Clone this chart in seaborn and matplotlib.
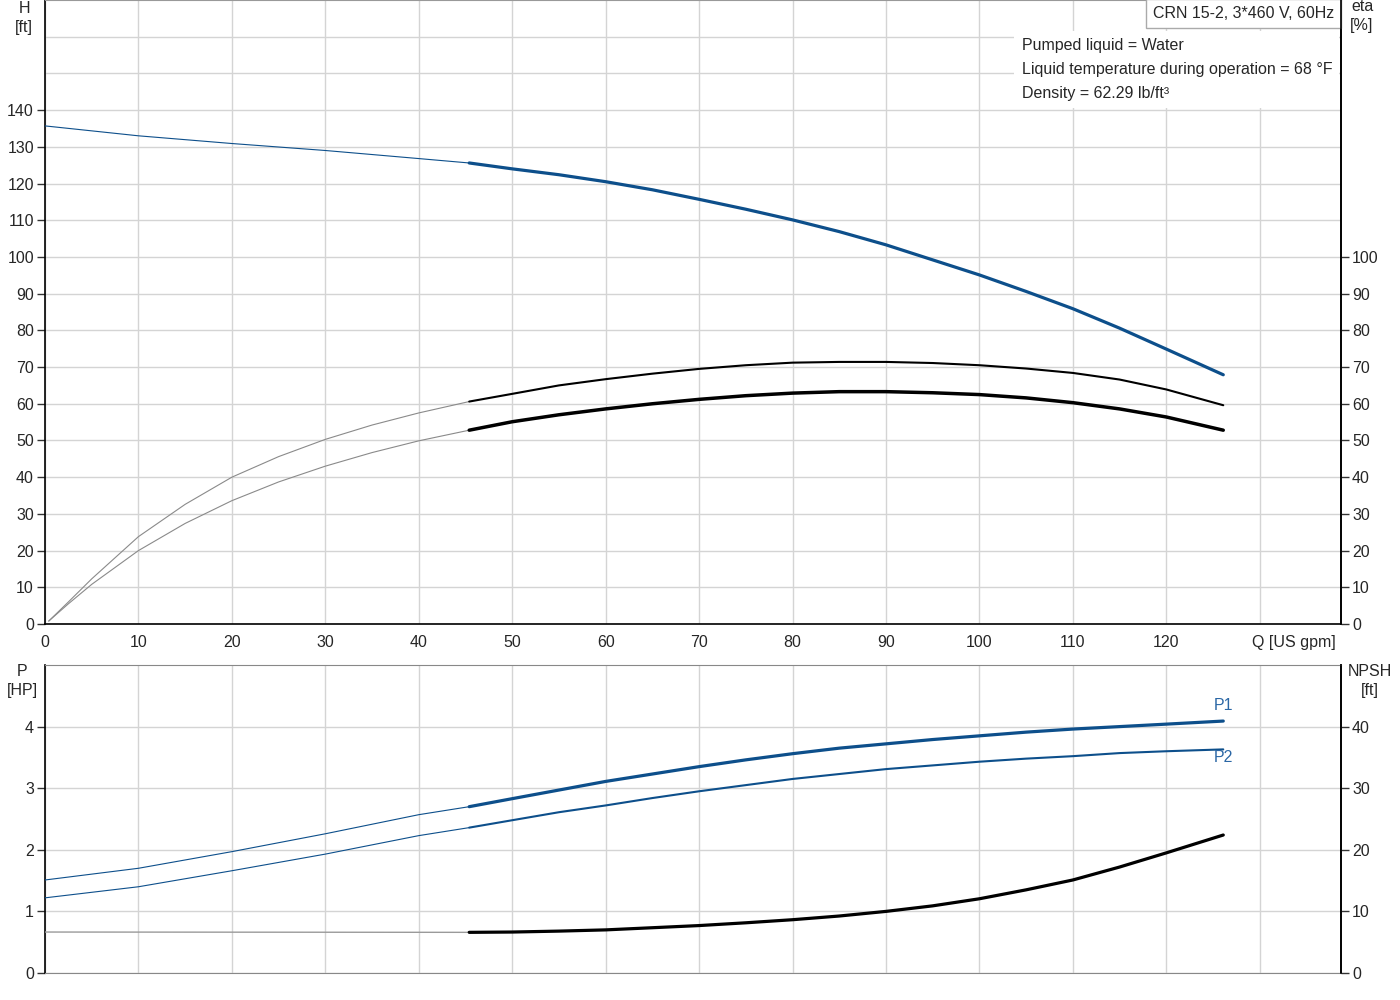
import numpy as np
import pandas as pd
import matplotlib
matplotlib.use("Agg")
import matplotlib.pyplot as plt
import matplotlib.transforms as mtransforms
import seaborn as sns

# ---------------- data ----------------
q_thin = [0, 10, 20, 30, 40, 45.4]
q_main = [45.4, 50, 55, 60, 65, 70, 75, 80, 85, 90, 95, 100, 105, 110, 115, 120, 126.1]

h_thin = [135.7, 133.0, 130.9, 129.0, 126.8, 125.6]
h_main = [125.6, 124.0, 122.4, 120.5, 118.3, 115.7, 113.0, 110.1, 106.9, 103.3,
          99.2, 95.1, 90.6, 85.9, 80.6, 74.9, 67.9]

q_eta_thin = [0.4, 2.5, 5, 10, 15, 20, 25, 30, 35, 40, 45.4]
eta1_thin = [0.8, 6.0, 12.3, 23.8, 32.6, 40.0, 45.6, 50.3, 54.2, 57.5, 60.6]
eta1_main = [60.6, 62.7, 65.0, 66.7, 68.2, 69.5, 70.5, 71.2, 71.4, 71.4,
             71.1, 70.5, 69.6, 68.4, 66.6, 63.9, 59.6]
eta2_thin = [0.8, 5.5, 10.8, 20.0, 27.4, 33.6, 38.7, 43.0, 46.7, 49.9, 52.8]
eta2_main = [52.8, 55.1, 57.0, 58.6, 60.0, 61.2, 62.2, 62.9, 63.3, 63.3,
             63.0, 62.5, 61.6, 60.3, 58.6, 56.4, 52.8]

p1_thin = [1.51, 1.70, 1.97, 2.26, 2.57, 2.70]
p1_main = [2.70, 2.83, 2.97, 3.11, 3.23, 3.35, 3.46, 3.56, 3.65, 3.72,
           3.79, 3.85, 3.91, 3.96, 4.00, 4.04, 4.09]
p2_thin = [1.22, 1.40, 1.66, 1.93, 2.23, 2.36]
p2_main = [2.36, 2.48, 2.61, 2.72, 2.84, 2.95, 3.05, 3.15, 3.23, 3.31,
           3.37, 3.43, 3.48, 3.52, 3.57, 3.60, 3.63]

q_npsh_thin = [0, 45.4]
npsh_thin = [6.65, 6.6]
npsh_main = [6.6, 6.65, 6.8, 7.0, 7.35, 7.7, 8.15, 8.65, 9.25, 10.0,
             10.9, 12.05, 13.5, 15.1, 17.2, 19.5, 22.4]

x_ticks = [0, 10, 20, 30, 40, 50, 60, 70, 80, 90, 100, 110, 120, 130]
x_ticklabels = ["0", "10", "20", "30", "40", "50", "60", "70", "80", "90",
                "100", "110", "120", "Q [US gpm]"]
h_ticks = [0, 10, 20, 30, 40, 50, 60, 70, 80, 90, 100, 110, 120, 130, 140]
h_extra_grid = [150, 160]
eta_ticks = [0, 10, 20, 30, 40, 50, 60, 70, 80, 90, 100]
p_ticks = [0, 1, 2, 3, 4]
npsh_ticks = [0, 10, 20, 30, 40]

title_text = "CRN 15-2, 3*460 V, 60Hz"
info_text = "Pumped liquid = Water\nLiquid temperature during operation = 68 °F\nDensity = 62.29 lb/ft³"

# ---------------- style ----------------
sns.set_style("white")
plt.rcParams["font.family"] = ["Liberation Sans", "DejaVu Sans"]
FS = 11.5
plt.rcParams["font.size"] = FS

BLUE = "#0d4f8b"
LBLUE = "#2b67a5"
GRID = "#d4d4d4"
THIN_GRAY = "#8a8a8a"

fig = plt.figure(figsize=(14, 10), dpi=100)
ax = fig.add_axes([45 / 1400, 1 - 624 / 1000, (1341 - 45) / 1400, 624 / 1000])
axb = fig.add_axes([45 / 1400, 1 - 973 / 1000, (1341 - 45) / 1400, (973 - 665) / 1000])


def draw(axis, x, y, color, lw):
    df = pd.DataFrame({"x": x, "y": y})
    sns.lineplot(data=df, x="x", y="y", ax=axis, color=color, linewidth=lw,
                 sort=False, estimator=None, solid_capstyle="round",
                 solid_joinstyle="round", zorder=3)


# ---- top: H and eta ----
draw(ax, q_thin, h_thin, BLUE, 0.8)
draw(ax, q_main, h_main, BLUE, 2.3)
draw(ax, q_eta_thin, eta1_thin, THIN_GRAY, 0.8)
draw(ax, q_main, eta1_main, "black", 1.5)
draw(ax, q_eta_thin, eta2_thin, THIN_GRAY, 0.8)
draw(ax, q_main, eta2_main, "black", 2.5)

ax.set_xlim(0, 138.7)
ax.set_ylim(0, 170)
ax.set_xticks(x_ticks)
ax.set_xticklabels(x_ticklabels)
ax.set_yticks(h_ticks)
ax.set_yticks(h_extra_grid, minor=True)
ax.set_xlabel("")
ax.set_ylabel("")
ax.grid(True, which="both", color=GRID, linewidth=1.0, zorder=0)
ax.tick_params(axis="both", which="major", direction="out", length=6, width=1,
               color="#333333", labelsize=FS, pad=2)
ax.tick_params(axis="y", which="minor", length=0)
for s in ["left", "bottom", "right"]:
    ax.spines[s].set_color("black")
    ax.spines[s].set_linewidth(1.2)
ax.spines["top"].set_color("#999999")

# last x tick label ("Q [US gpm]") starts just left of its tick
qlab = ax.get_xticklabels()[-1]
qlab.set_horizontalalignment("left")
qlab.set_transform(qlab.get_transform() +
                   mtransforms.ScaledTranslation(-8 / 100, 0, fig.dpi_scale_trans))

ax2 = ax.twinx()
ax2.set_ylim(0, 170)
ax2.set_yticks(eta_ticks)
ax2.tick_params(axis="y", direction="out", length=6, width=1, color="#333333",
                labelsize=FS, pad=2)
for s in ["left", "bottom", "top"]:
    ax2.spines[s].set_visible(False)
ax2.spines["right"].set_color("black")
ax2.spines["right"].set_linewidth(1.2)
ax2.grid(False)

ax.text(0.9945, 0.990, title_text, transform=ax.transAxes, ha="right", va="top",
        fontsize=FS, zorder=10,
        bbox=dict(boxstyle="square,pad=0.45", facecolor="white", edgecolor="#aaaaaa", linewidth=1))
ax.text(0.7535, 0.939, info_text, transform=ax.transAxes, ha="left", va="top",
        fontsize=FS, linespacing=1.75, zorder=9,
        bbox=dict(boxstyle="square,pad=0.45", facecolor="white", edgecolor="none"))

# ---- bottom: P and NPSH ----
draw(axb, q_thin, p1_thin, BLUE, 0.8)
draw(axb, q_main, p1_main, BLUE, 2.3)
draw(axb, q_thin, p2_thin, BLUE, 0.8)
draw(axb, q_main, p2_main, BLUE, 1.5)

axb.set_xlim(0, 138.7)
axb.set_ylim(0, 5)
axb.set_xticks(x_ticks)
axb.set_xticklabels([])
axb.set_yticks(p_ticks)
axb.set_xlabel("")
axb.set_ylabel("")
axb.grid(True, color=GRID, linewidth=1.0, zorder=0)
axb.tick_params(axis="x", length=0)
axb.tick_params(axis="y", direction="out", length=6, width=1, color="#333333",
                labelsize=FS, pad=2)
for s in ["left", "right"]:
    axb.spines[s].set_color("black")
    axb.spines[s].set_linewidth(1.2)
for s in ["top", "bottom"]:
    axb.spines[s].set_color("#888888")

axn = axb.twinx()
draw(axn, q_npsh_thin, npsh_thin, "#9a9a9a", 1.0)
draw(axn, q_main, npsh_main, "black", 2.3)
axn.set_ylim(0, 50)
axn.set_yticks(npsh_ticks)
axn.set_xlabel("")
axn.set_ylabel("")
axn.tick_params(axis="y", direction="out", length=6, width=1, color="#333333",
                labelsize=FS, pad=2)
for s in ["left", "bottom", "top"]:
    axn.spines[s].set_visible(False)
axn.spines["right"].set_color("black")
axn.spines["right"].set_linewidth(1.2)
axn.grid(False)

axb.annotate("P1", xy=(q_main[-1], p1_main[-1]), xytext=(0, 11), textcoords="offset points",
             ha="center", va="center", color=LBLUE, fontsize=FS)
axb.annotate("P2", xy=(q_main[-1], p2_main[-1]), xytext=(0, -6), textcoords="offset points",
             ha="center", va="center", color=LBLUE, fontsize=FS)

# axis unit labels
fig.text(24 / 1400, 1 - 1 / 1000, "H\n[ft]", ha="center", va="top", fontsize=FS, linespacing=1.3)
fig.text(1362 / 1400, 1 + 1 / 1000, "eta\n[%]", ha="center", va="top", fontsize=FS, linespacing=1.3)
fig.text(22 / 1400, 1 - 664 / 1000, "P\n[HP]", ha="center", va="top", fontsize=FS, linespacing=1.3)
fig.text(1370 / 1400, 1 - 664 / 1000, "NPSH\n[ft]", ha="center", va="top", fontsize=FS, linespacing=1.3)

fig.savefig("out.png", dpi=100, facecolor="white")
